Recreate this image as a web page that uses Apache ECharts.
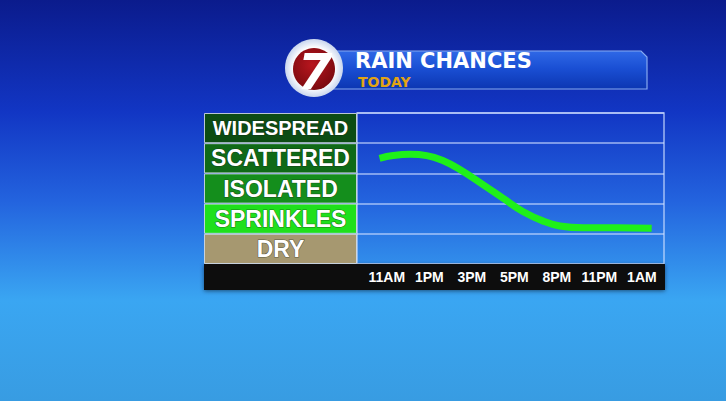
<!DOCTYPE html>
<html>
<head>
<meta charset="utf-8">
<script src="https://cdn.jsdelivr.net/npm/echarts@6/dist/echarts.min.js"></script>
<style>html,body{margin:0;padding:0;background:#1540d0;}#c{width:726px;height:401px;}</style>
</head>
<body>
<div id="c"></div>
<script>
// ---- data ----
const levels = ['DRY', 'SPRINKLES', 'ISOLATED', 'SCATTERED', 'WIDESPREAD'];
const levelValues = [1, 1, 1, 1, 1];
const timeLabels = ['11AM', '1PM', '3PM', '5PM', '8PM', '11PM', '1AM'];
const timePositions = [0, 1, 2, 3, 4, 5, 6];
const rainX = [-0.17, 0.15, 0.55, 0.94, 1.33, 1.72, 2.27, 2.74, 3.21, 3.68, 4.07, 4.62, 5.41, 6.23];
const rainY = [3.50, 3.59, 3.63, 3.59, 3.42, 3.13, 2.62, 2.17, 1.73, 1.42, 1.26, 1.20, 1.20, 1.18];
const titleText = 'RAIN CHANCES';
const subtitleText = 'TODAY';

// ---- styles ----
const levelColors = ['#a69870', '#1fe01c', '#148e1c', '#0f6a17', '#0c4c13'];
const levelFontSizes = [23, 23, 23, 23, 20];
const gridLineColor = 'rgba(205,222,255,0.75)';

const chart = echarts.init(document.getElementById('c'), null, { renderer: 'svg' });

const option = {
  animation: false,
  backgroundColor: {
    type: 'linear', x: 0, y: 0, x2: 0, y2: 1,
    colorStops: [
      { offset: 0, color: '#0b1b8c' },
      { offset: 0.28, color: '#1236c4' },
      { offset: 0.5, color: '#2363de' },
      { offset: 0.75, color: '#3aa6f2' },
      { offset: 1, color: '#389ce2' }
    ]
  },
  grid: [
    { left: 357, top: 113, width: 307, height: 151, show: true, borderColor: gridLineColor, borderWidth: 1.5, backgroundColor: 'transparent' },
    { left: 204, top: 113, width: 153, height: 151, show: false }
  ],
  xAxis: [
    {
      gridIndex: 0, type: 'value', min: -0.7, max: 6.52, z: 10,
      axisLine: { show: false }, axisTick: { show: false }, splitLine: { show: false },
      axisLabel: {
        customValues: timePositions,
        formatter: v => timeLabels[Math.round(v)],
        color: '#ffffff', fontFamily: '"Liberation Sans Narrow", "Liberation Sans", Arial, sans-serif',
        fontWeight: 'bold', fontSize: 14, margin: 6, verticalAlign: 'top',
        showMinLabel: true, showMaxLabel: true
      }
    },
    { gridIndex: 1, type: 'value', min: 0, max: 1, show: false }
  ],
  yAxis: [
    {
      gridIndex: 0, type: 'value', min: 0, max: 5, interval: 1,
      axisLine: { show: false }, axisTick: { show: false }, axisLabel: { show: false },
      splitLine: { show: true, lineStyle: { color: gridLineColor, width: 1.5 } }
    },
    {
      gridIndex: 1, type: 'category', data: levels, show: false
    }
  ],
  series: [
    {
      type: 'bar', xAxisIndex: 1, yAxisIndex: 1, barCategoryGap: 0,
      data: levelValues.map((v, i) => ({
        value: v,
        itemStyle: { color: levelColors[i] },
        label: { fontSize: levelFontSizes[i] }
      })),
      itemStyle: { borderColor: 'rgba(215,222,230,0.85)', borderWidth: 1 },
      label: {
        show: true, position: 'inside', formatter: '{b}', color: '#ffffff',
        fontFamily: '"Liberation Sans", Arial, sans-serif', fontWeight: 'bold',
        textBorderColor: 'rgba(20,30,20,0.55)', textBorderWidth: 1.2
      },
      silent: true
    },
    {
      type: 'line', xAxisIndex: 0, yAxisIndex: 0, smooth: 0.45, symbol: 'none',
      data: rainX.map((x, i) => [x, rainY[i]]),
      lineStyle: { color: '#1ff01a', width: 7, cap: 'butt' },
      z: 5
    }
  ],
  graphic: [
    // axis bar
    { type: 'rect', z: 1, shape: { x: 204, y: 264, width: 461, height: 26 },
      style: { fill: '#0e0e0e', shadowBlur: 4, shadowColor: 'rgba(0,0,0,0.5)', shadowOffsetY: 1 } },
    // banner
    { type: 'polygon', z: 3,
      shape: { points: [[320, 51], [641, 51], [647, 57], [647, 89], [320, 89]] },
      style: {
        fill: { type: 'linear', x: 0, y: 0, x2: 0, y2: 1, colorStops: [
          { offset: 0, color: '#2f68e6' }, { offset: 0.45, color: '#1a4fd4' }, { offset: 1, color: '#0c36b2' }] },
        stroke: '#86aaf0', lineWidth: 1.2
      } },
    { type: 'text', z: 4, style: { text: titleText, x: 355, y: 61, fill: '#ffffff',
      font: 'bold 21px "DejaVu Sans", sans-serif', verticalAlign: 'middle', align: 'left' } },
    { type: 'text', z: 4, style: { text: subtitleText, x: 358, y: 82, fill: '#e2a412',
      font: 'bold 14px "DejaVu Sans", sans-serif', verticalAlign: 'middle', align: 'left' } },
    // logo
    { type: 'circle', z: 5, shape: { cx: 314, cy: 68, r: 29 },
      style: { fill: { type: 'radial', x: 0.5, y: 0.5, r: 0.5, colorStops: [
        { offset: 0.7, color: '#ffffff' }, { offset: 1, color: '#c9d6ee' }] } } },
    { type: 'circle', z: 6, shape: { cx: 314, cy: 69, r: 21 },
      style: { fill: { type: 'radial', x: 0.45, y: 0.4, r: 0.6, colorStops: [
        { offset: 0, color: '#b8161e' }, { offset: 1, color: '#7c0a10' }] } } },
    { type: 'text', z: 7, style: { text: '7', x: 315, y: 72, fill: '#ffffff',
      font: 'italic 900 50px "DejaVu Sans", sans-serif', align: 'center', verticalAlign: 'middle' } }
  ]
};
chart.setOption(option);
</script>
</body>
</html>
